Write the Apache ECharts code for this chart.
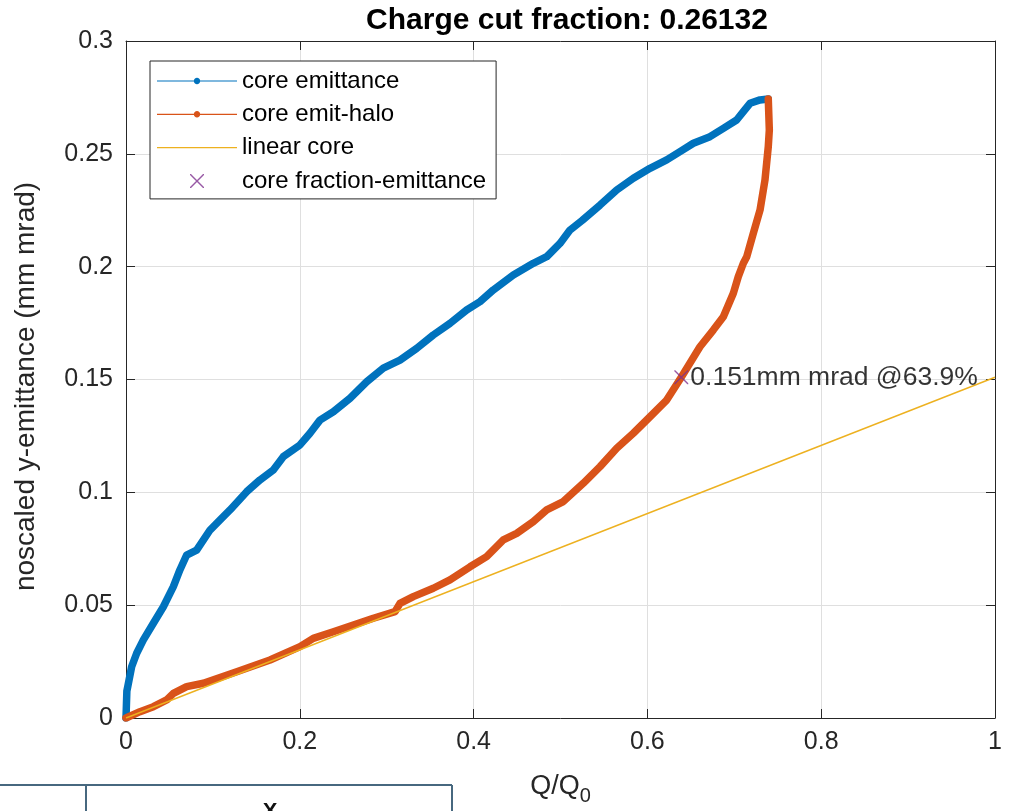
<!DOCTYPE html>
<html>
<head>
<meta charset="utf-8">
<title>Charge cut fraction</title>
<script src="https://cdn.jsdelivr.net/npm/echarts@6/dist/echarts.min.js"></script>
<style>
  html, body { margin: 0; padding: 0; background: #fff; }
  #chart { width: 1013px; height: 811px; }
</style>
</head>
<body>
<div id="chart"></div>
<script>
// ---- data ----
const chargeCut = 0.26132;

// core emittance vs. charge fraction Q/Q0
const coreX = [0, 0.0005, 0.001, 0.002, 0.0065, 0.0123, 0.02, 0.0315, 0.043, 0.0545, 0.062, 0.0698,
  0.0813, 0.0967, 0.108, 0.1197, 0.1389, 0.1542, 0.1695, 0.181, 0.2002, 0.2117, 0.2232, 0.2386,
  0.2578, 0.277, 0.2961, 0.3153, 0.3345, 0.3536, 0.3728, 0.392, 0.4074, 0.4227, 0.4457, 0.4687,
  0.4841, 0.4994, 0.5109, 0.525, 0.5455, 0.5647, 0.5838, 0.603, 0.6222, 0.6375, 0.6529, 0.672,
  0.6874, 0.7027, 0.7104, 0.7181, 0.7296, 0.7391];
const coreY = [0, 0.006, 0.012, 0.0139, 0.0227, 0.0287, 0.0346, 0.042, 0.0493, 0.0582, 0.0656, 0.0722,
  0.0744, 0.0833, 0.0877, 0.0922, 0.1003, 0.1055, 0.1099, 0.1158, 0.121, 0.1262, 0.132, 0.1357,
  0.1417, 0.149, 0.155, 0.1586, 0.1638, 0.1697, 0.1749, 0.1808, 0.1845, 0.1897, 0.1963, 0.2015,
  0.2044, 0.2103, 0.2162, 0.2205, 0.2273, 0.234, 0.2392, 0.2436, 0.2473, 0.251, 0.2547, 0.2576,
  0.2613, 0.265, 0.2687, 0.2724, 0.2739, 0.2743];

// core emittance with halo removed
const haloX = [0, 0.0012, 0.0161, 0.0315, 0.0468, 0.0545, 0.0698, 0.089, 0.1274, 0.1657, 0.2002,
  0.2155, 0.2386, 0.2616, 0.2846, 0.3096, 0.3153, 0.3306, 0.3536, 0.3728, 0.3959, 0.415, 0.4342,
  0.4496, 0.4687, 0.4841, 0.5032, 0.5262, 0.5455, 0.5647, 0.5838, 0.603, 0.6222, 0.639, 0.6605,
  0.6758, 0.6874, 0.6989, 0.7046, 0.7104, 0.7143, 0.7219, 0.7296, 0.7353, 0.7391, 0.7403, 0.7391];
const haloY = [0, 0.0006, 0.0028, 0.005, 0.008, 0.0109, 0.0139, 0.0154, 0.0205, 0.0257, 0.0316,
  0.0353, 0.0382, 0.0412, 0.0442, 0.0471, 0.0508, 0.0538, 0.0575, 0.0612, 0.067, 0.0715, 0.0789,
  0.0818, 0.087, 0.0922, 0.0959, 0.104, 0.1114, 0.1195, 0.1262, 0.1335, 0.1409, 0.151, 0.1645,
  0.1719, 0.1778, 0.1882, 0.1956, 0.2015, 0.2044, 0.2148, 0.2251, 0.2384, 0.2532, 0.2606, 0.2743];

// linear core reference line
const linearX = [0, 1];
const linearY = [0, 0.151];

// core fraction / emittance point
const cutFraction = 0.639;
const cutEmit = 0.151;

// axis ticks
const xTicks = [0, 0.2, 0.4, 0.6, 0.8, 1];
const yTicks = [0, 0.05, 0.1, 0.15, 0.2, 0.25, 0.3];

// ---- helpers ----
const zip = (xs, ys) => xs.map((x, i) => [x, ys[i]]);
const AX = '#262626';
const GRID = '#dfdfdf';

// legend glyphs, all on an 80x14 box (corner points keep the box size)
function circlePath(cx, cy, r, n) {
  let s = '';
  for (let i = 0; i < n; i++) {
    const a = (i / n) * Math.PI * 2;
    s += (i === 0 ? 'M' : 'L') + (cx + r * Math.cos(a)).toFixed(2) + ',' + (cy + r * Math.sin(a)).toFixed(2);
  }
  return s + 'Z';
}
const frame = 'M0,0L0,0Z M80,14L80,14Z ';
const lineBar = 'M0,6.4L80,6.4L80,7.6L0,7.6Z ';
const iconLineDot = 'path://' + frame + lineBar + circlePath(40, 7, 3.2, 16);
const iconLine = 'path://' + frame + lineBar;
const crossShape = (x0, y0, s) =>
  `M${x0},${y0}L${x0 + 1},${y0}L${x0 + s},${y0 + s - 1}L${x0 + s},${y0 + s}L${x0 + s - 1},${y0 + s}L${x0},${y0 + 1}Z ` +
  `M${x0 + s},${y0}L${x0 + s},${y0 + 1}L${x0 + 1},${y0 + s}L${x0},${y0 + s}L${x0},${y0 + s - 1}L${x0 + s - 1},${y0}Z`;
const iconCross = 'path://' + frame + crossShape(33, 0, 14);
const symbolCross = 'path://' + crossShape(0, 0, 14);

const chart = echarts.init(document.getElementById('chart'));

// box-style axes: lines on all four sides, ticks pointing inward
const axisCommon = {
  type: 'value',
  axisLine: { show: true, onZero: false, lineStyle: { color: AX, width: 1 } },
  axisTick: { show: true, inside: true, length: 9, lineStyle: { color: AX, width: 1 } },
};

chart.setOption({
  animation: false,
  backgroundColor: '#fff',
  title: {
    text: 'Charge cut fraction: ' + chargeCut,
    left: 562, top: 1, textAlign: 'center',
    textStyle: { fontFamily: 'Liberation Sans', fontSize: 30, fontWeight: 'bold', color: '#000' }
  },
  grid: { left: 126, right: 18, top: 41, bottom: 93, containLabel: false },
  legend: {
    orient: 'vertical', left: 150, top: 61,
    padding: [8, 10, 6, 7], itemGap: 9.3,
    itemWidth: 80, itemHeight: 14,
    backgroundColor: '#fff', borderColor: AX, borderWidth: 1,
    textStyle: { fontFamily: 'Liberation Sans', fontSize: 24, color: '#000', lineHeight: 24 },
    data: [
      { name: 'core emittance', icon: iconLineDot },
      { name: 'core emit-halo', icon: iconLineDot },
      { name: 'linear core', icon: iconLine },
      { name: 'core fraction-emittance', icon: iconCross }
    ]
  },
  xAxis: [
    Object.assign({}, axisCommon, {
      position: 'bottom', min: 0, max: 1, interval: 0.2,
      splitLine: { show: true, lineStyle: { color: GRID, width: 1 } },
      axisLabel: { fontFamily: 'Liberation Sans', fontSize: 25, color: AX, margin: 12,
        formatter: v => String(xTicks.find(t => Math.abs(t - v) < 1e-9) ?? v) },
      name: 'Q/Q{s|0}', nameLocation: 'middle', nameGap: 50,
      nameTextStyle: { fontFamily: 'Liberation Sans', fontSize: 27, color: AX,
        rich: { s: { fontFamily: 'Liberation Sans', fontSize: 20, color: AX, padding: [18, 0, 0, 0] } } }
    }),
    Object.assign({}, axisCommon, {
      position: 'top', min: 0, max: 1, interval: 0.2,
      splitLine: { show: false }, axisLabel: { show: false }
    })
  ],
  yAxis: [
    Object.assign({}, axisCommon, {
      position: 'left', min: 0, max: 0.3, interval: 0.05,
      splitLine: { show: true, lineStyle: { color: GRID, width: 1 } },
      axisLabel: { fontFamily: 'Liberation Sans', fontSize: 25, color: AX, margin: 13,
        formatter: v => String(yTicks.find(t => Math.abs(t - v) < 1e-9) ?? v) },
      name: 'noscaled y-emittance (mm mrad)', nameLocation: 'middle', nameGap: 86, nameRotate: 90,
      nameTextStyle: { fontFamily: 'Liberation Sans', fontSize: 28, color: AX, padding: [0, 14, 0, 0] }
    }),
    Object.assign({}, axisCommon, {
      position: 'right', min: 0, max: 0.3, interval: 0.05,
      splitLine: { show: false }, axisLabel: { show: false }
    })
  ],
  series: [
    {
      name: 'core emittance', type: 'line', data: zip(coreX, coreY),
      showSymbol: false, symbol: 'none', color: '#0072BD',
      lineStyle: { color: '#0072BD', width: 7.5, cap: 'round', join: 'round' }
    },
    {
      name: 'core emit-halo', type: 'line', data: zip(haloX, haloY),
      showSymbol: false, symbol: 'none', color: '#D95319',
      lineStyle: { color: '#D95319', width: 7.5, cap: 'round', join: 'round' }
    },
    {
      name: 'linear core', type: 'line', data: zip(linearX, linearY),
      showSymbol: false, symbol: 'none', color: '#EDB120',
      lineStyle: { color: '#EDB120', width: 1.4 }
    },
    {
      name: 'core fraction-emittance', type: 'scatter',
      data: [[cutFraction, cutEmit]],
      symbol: symbolCross, symbolSize: 14, color: '#7E2F8E',
      itemStyle: { color: '#7E2F8E' },
      label: {
        show: true, position: 'right', distance: 2,
        formatter: () => cutEmit + 'mm mrad @' + (cutFraction * 100).toFixed(1) + '%',
        fontFamily: 'Liberation Sans', fontSize: 26.5, color: '#000'
      },
      z: 5
    }
  ],
  graphic: [
    // partial table frame below the plot
    { type: 'line', shape: { x1: 0, y1: 785, x2: 452, y2: 785 }, style: { stroke: '#47687f', lineWidth: 2 } },
    { type: 'line', shape: { x1: 86, y1: 785, x2: 86, y2: 811 }, style: { stroke: '#47687f', lineWidth: 2 } },
    { type: 'line', shape: { x1: 452, y1: 785, x2: 452, y2: 811 }, style: { stroke: '#47687f', lineWidth: 2 } },
    { type: 'text', x: 270, y: 801, style: { text: 'X', font: 'bold 22px "Liberation Sans"', fill: '#111', textAlign: 'center' } }
  ]
});
</script>
</body>
</html>
